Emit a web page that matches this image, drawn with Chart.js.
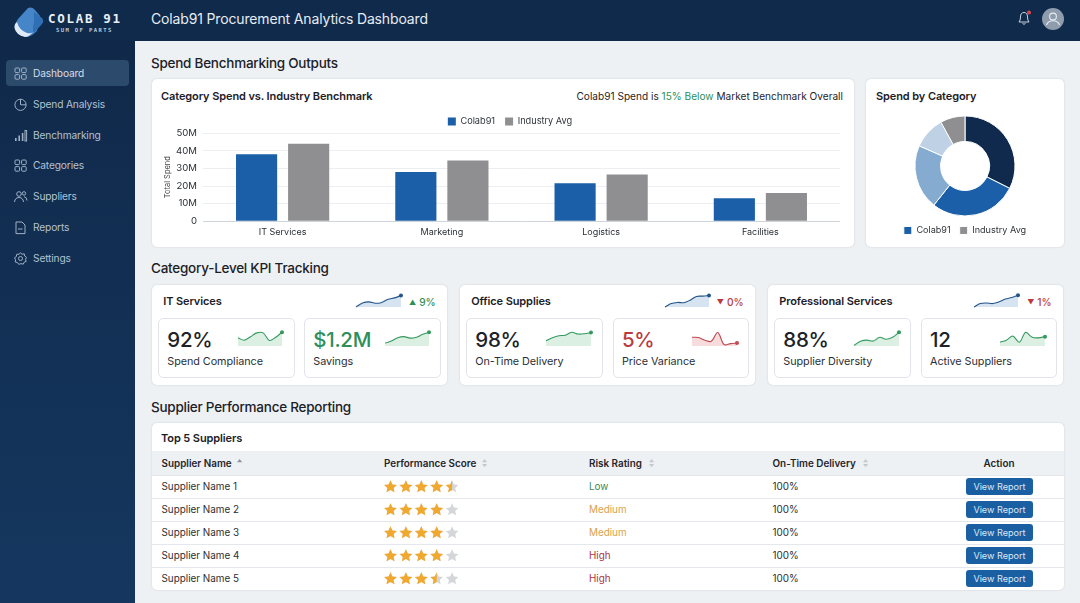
<!DOCTYPE html>
<html>
<head>
<meta charset="utf-8">
<title>Colab91 Procurement Analytics Dashboard</title>
<script src="https://cdn.jsdelivr.net/npm/chart.js@4"></script>
<style>
  html, body { margin: 0; padding: 0; }
  body { width: 1080px; height: 603px; overflow: hidden; position: relative; background: #eef1f4; font-family: Inter, sans-serif; color: #1c2228; }
  .abs, .lbl, canvas { position: absolute; }
  .lbl { white-space: nowrap; line-height: 20px; height: 20px; }
  #header { left: 0; top: 0; width: 1080px; height: 41px; background: #0f2a4b; }
  #sidebar { left: 0; top: 41px; width: 135px; height: 562px; background: linear-gradient(#10294a, #15375f); }
  #active { left: 6px; top: 60px; width: 123px; height: 26px; background: #2c4a6c; border-radius: 4px; }
  .card { position: absolute; background: #fff; border-radius: 5px; box-shadow: 0 0 2px rgba(30,50,70,.18); }
  .sub { position: absolute; background: #fff; border: 1px solid #e1e5e9; border-radius: 5px; box-sizing: border-box; }
  .section { font-size: 13.5px; font-weight: 500; letter-spacing: -0.25px; color: #1b2127; }
  .pagetitle { font-size: 14px; font-weight: 400; letter-spacing: -0.15px; color: #e6ecf2; }
  .cardtitle { font-size: 11px; font-weight: 600; letter-spacing: -0.1px; color: #1b2127; }
  .nav { font-size: 10.2px; letter-spacing: -0.15px; color: #b3c2d3; transform: translateY(-0.6px); }
  .big { font-size: 20.5px; font-weight: 500; letter-spacing: -0.3px; }
  .small { font-size: 10.8px; letter-spacing: -0.05px; color: #2a3036; transform: translateY(0.6px); }
  .delta { font-size: 10.2px; font-weight: 500; }
  .delta span { font-size: 7px; margin-right: 3px; position: relative; top: -1px; }
  .th { font-size: 9.9px; font-weight: 600; color: #1f252b; transform: translateY(-0.6px); }
  .td { font-size: 9.9px; color: #2a3036; transform: translateY(-0.6px); }
  .btn { position: absolute; width: 67px; height: 17px; left: 966px; background: #1b5fa3; border-radius: 3px; color: #dbe8f5; font-size: 9.1px; line-height: 17px; text-align: center; }
  svg { position: absolute; overflow: visible; }
</style>
</head>
<body>
<script>
// Bar chart
const barCategories = ['IT Services', 'Marketing', 'Logistics', 'Facilities'];
const colabSpend = [38, 28, 21.5, 13];
const industrySpend = [44, 34.5, 26.5, 16];

// Donut
const donutLabels = ['', 'Colab91', '', '', 'Industry Avg'];
const donutValues = [32.4, 28.3, 20.9, 10.4, 8];

// Sidebar
const navItems = ['Dashboard', 'Spend Analysis', 'Benchmarking', 'Categories', 'Suppliers', 'Reports', 'Settings'];

// KPI groups
const groupTitles = ['IT Services', 'Office Supplies', 'Professional Services'];
const groupArrows = ['▲', '▼', '▼'];
const groupDeltas = ['9%', '0%', '1%'];
const kpiValues = ['92%', '$1.2M', '98%', '5%', '88%', '12'];
const kpiLabels = ['Spend Compliance', 'Savings', 'On-Time Delivery', 'Price Variance', 'Supplier Diversity', 'Active Suppliers'];

// Sparklines, one series for each group header and KPI tile
const trendIT = [0, 14, 18, 13, 16, 27, 32, 40];
const trendOffice = [0, 12, 16, 15, 24, 37, 38, 40];
const trendProfessional = [0, 12, 14, 12, 18, 28, 33, 41];
const sparkCompliance = [28, 20, 32, 45, 45, 19, 30, 47];
const sparkSavings = [10, 17, 28, 32, 27, 30, 40, 47];
const sparkDelivery = [18, 28, 35, 37, 47, 41, 42, 46];
const sparkVariance = [30, 29, 20, 16, 46, 5, 8, 10];
const sparkDiversity = [2, 16, 20, 17, 30, 23, 30, 47];
const sparkActive = [13, 20, 34, 13, 47, 30, 28, 32];
const sparkSteps = ['1', '2', '3', '4', '5', '6', '7', '8'];

// Supplier table
const tableHeaders = ['Supplier Name', 'Performance Score', 'Risk Rating', 'On-Time Delivery'];
const supplierNames = ['Supplier Name 1', 'Supplier Name 2', 'Supplier Name 3', 'Supplier Name 4', 'Supplier Name 5'];
const supplierScores = [4.5, 4, 4, 4, 3.5];
const supplierRisks = ['Low', 'Medium', 'Medium', 'High', 'High'];
const supplierDelivery = ['100%', '100%', '100%', '100%', '100%'];

const riskColors = { Low: '#3d8a55', Medium: '#dca24c', High: '#ad3340' };
const GREEN = '#2e8f58', RED = '#b93a3f';

Chart.defaults.font.family = 'Inter, sans-serif';
Chart.defaults.animation = false;
Chart.defaults.responsive = false;

function el(cls, left, top, width, height, parent) {
  const d = document.createElement('div');
  d.className = cls;
  d.style.left = left + 'px';
  d.style.top = top + 'px';
  if (width) d.style.width = width + 'px';
  if (height) d.style.height = height + 'px';
  (parent || document.body).appendChild(d);
  return d;
}

// yc is the vertical centre of the text
function label(text, x, yc, cls, color) {
  const d = el('lbl ' + cls, x, yc - 10);
  d.textContent = text;
  if (color) d.style.color = color;
  return d;
}

function svg(markup, left, top, width, height) {
  const wrap = document.createElement('div');
  wrap.innerHTML = `<svg xmlns="http://www.w3.org/2000/svg" style="left:${left}px;top:${top}px" width="${width}" height="${height}" viewBox="0 0 ${width} ${height}">${markup}</svg>`;
  document.body.appendChild(wrap.firstChild);
}

function canvas(left, top, width, height) {
  const c = document.createElement('canvas');
  c.width = width;
  c.height = height;
  c.style.left = left + 'px';
  c.style.top = top + 'px';
  c.style.width = width + 'px';
  c.style.height = height + 'px';
  document.body.appendChild(c);
  return c;
}

// Frame
el('abs', 0, 0, 1080, 41).id = 'header';
el('abs', 0, 41, 135, 562).id = 'sidebar';
el('abs', 6, 60, 123, 26).id = 'active';

// Logo
svg(`<path d="M15 1 Q19 -0.5 22 3 L27 9 L24 24 Q18 30 13 30 Q5 27 2 20 Q2 16 5 12 Z" fill="#4585c8"/>
  <path d="M21 5 L29 11 Q31.5 14 29 17 L21 26 Q19 22 21 15 Z" fill="#2f6fb4"/>
  <path d="M1.5 21 Q1 17 4 15 Q6 23 14 26 Q18 27 20 25 Q16 30 12 30 Q3 28 1.5 21 Z" fill="#dfeaf5"/>`, 13, 7, 31, 31);
const brand = label('COLAB 91', 48, 19, '', '#e9eff5');
brand.style.cssText += 'font:700 12.5px "DejaVu Sans Mono", monospace;letter-spacing:1.7px;line-height:20px';
const tag = label('SUM OF PARTS', 56, 30, '', '#b9c8d8');
tag.style.cssText += 'font:700 5.6px "DejaVu Sans Mono", monospace;letter-spacing:1.35px;line-height:20px';
label('Colab91 Procurement Analytics Dashboard', 151, 19, 'pagetitle');

// Bell and avatar
svg(`<path d="M2 11 Q3.5 9.5 3.5 6 Q3.5 1.5 7 1.5 Q10.5 1.5 10.5 6 Q10.5 9.5 12 11 Z M5.5 12.5 Q7 14 8.5 12.5" fill="none" stroke="#c9d4e0" stroke-width="1"/>
  <circle cx="12" cy="1.5" r="2" fill="#e0474c"/>`, 1017, 11, 15, 15);
svg(`<circle cx="11" cy="11" r="11" fill="#8e9cac"/><circle cx="11" cy="8.5" r="3.4" fill="none" stroke="#e8edf2" stroke-width="1.1"/>
  <path d="M4.5 17 Q6 12.8 11 12.8 Q16 12.8 17.5 17" fill="none" stroke="#e8edf2" stroke-width="1.1"/>`, 1042, 8, 22, 22);

// Sidebar items
const navY = [73.5, 104.5, 135.5, 166, 197, 227.5, 258.5];
const S = 'fill="none" stroke="#9fb1c5" stroke-width="1"';
const grid = `<rect x="1" y="1" width="4.6" height="4.6" rx="1" ${S}/><rect x="7.6" y="1" width="4.6" height="4.6" rx="1" ${S}/><rect x="1" y="7.6" width="4.6" height="4.6" rx="1" ${S}/><rect x="7.6" y="7.6" width="4.6" height="4.6" rx="1" ${S}/>`;
const navIcons = [
  grid,
  `<circle cx="6.5" cy="6.8" r="5.6" ${S}/><path d="M6.5 1.2 V6.8 H12" ${S}/>`,
  `<rect x="1" y="9" width="1.6" height="3" fill="#9fb1c5"/><rect x="4.4" y="6.5" width="1.6" height="5.5" fill="#9fb1c5"/><rect x="7.8" y="4" width="1.6" height="8" fill="#9fb1c5"/><rect x="11" y="1.5" width="1.6" height="10.5" ${S}/>`,
  grid,
  `<circle cx="5" cy="4" r="2.3" ${S}/><circle cx="10" cy="3.4" r="1.7" ${S}/><path d="M0.5 12 Q1 7.5 5 7.5 Q9 7.5 9.5 12 M10 6.6 Q12.8 7 13 10.5" ${S}/>`,
  `<path d="M2 1 H8 L11 4 V12.6 H2 Z M4 8 H8.5" ${S}/>`,
  `<circle cx="6.5" cy="6.5" r="2" ${S}/><path d="M6.5 0.8 L8 2.2 L10.3 1.9 L10.7 4 L12.5 5.4 L11.5 7.3 L12.2 9.4 L10.2 10.2 L9.2 12.2 L6.9 11.6 L4.8 12.4 L3.5 10.6 L1.3 10 L1.5 7.8 L0.5 5.9 L2.3 4.6 L2.7 2.3 L5 2.2 Z" ${S}/>`
];
navItems.forEach((name, i) => {
  svg(navIcons[i], 13.5, navY[i] - 7, 14, 14);
  label(name, 33, navY[i], 'nav', i === 0 ? '#d3dde8' : null);
});

// Section titles and cards
label('Spend Benchmarking Outputs', 151, 62.5, 'section');
label('Category-Level KPI Tracking', 151, 268, 'section');
label('Supplier Performance Reporting', 151, 406.5, 'section');
el('card', 151.5, 79, 702, 168);
el('card', 866, 79, 198, 168);
label('Category Spend vs. Industry Benchmark', 161, 96, 'cardtitle');
label('Spend by Category', 876, 96, 'cardtitle');

const note = label('', 0, 96.5, 'td');
note.style.cssText += 'left:auto;right:237px;font-size:10.1px;color:#1f252b';
note.innerHTML = `Colab91 Spend is <span style="color:${GREEN}">15% Below</span> Market Benchmark Overall`;

// Grouped bars
new Chart(canvas(152, 104, 701, 140), {
  type: 'bar',
  data: {
    labels: barCategories,
    datasets: [
      { label: 'Colab91', data: colabSpend, backgroundColor: '#1a5fa8' },
      { label: 'Industry Avg', data: industrySpend, backgroundColor: '#8f8f91' }
    ]
  },
  options: {
    categoryPercentage: 0.654,
    barPercentage: 0.79,
    layout: { padding: { left: 8, right: 13, top: 0, bottom: 0 } },
    plugins: {
      tooltip: { enabled: false },
      legend: {
        labels: { boxWidth: 8, boxHeight: 8, color: '#2f353b', font: { size: 9.2 }, padding: 10 }
      }
    },
    scales: {
      x: {
        grid: { display: false, drawTicks: false },
        border: { display: false },
        ticks: { color: '#2a3036', font: { size: 9 }, padding: 6, maxRotation: 0, autoSkip: false }
      },
      y: {
        min: 0,
        max: 50,
        afterFit: scale => { scale.width = 43; },
        border: { display: false },
        grid: {
          drawTicks: false,
          color: ctx => (ctx.tick.value === 0 ? '#cfd4da' : '#eceff2')
        },
        title: { display: true, text: 'Total Spend', color: '#444', font: { size: 7.5 }, padding: { top: 3, bottom: 0 } },
        ticks: {
          stepSize: 10,
          autoSkip: false,
          padding: 6,
          color: '#2a3036',
          font: { size: 9.6 },
          callback: v => (v === 0 ? '0' : v + 'M')
        }
      }
    }
  },
  plugins: [{
    id: 'shiftLegend',
    afterLayout(chart) {
      chart.legend.left += 10;
      chart.legend.right += 10;
      chart.legend.top += 3;
    }
  }]
});

// Donut, the legend lists only the named slices
new Chart(canvas(868, 111, 194, 134), {
  type: 'doughnut',
  data: {
    labels: donutLabels,
    datasets: [{
      data: donutValues,
      backgroundColor: ['#0f2a4d', '#1a5fa8', '#86abd1', '#bed1e5', '#8f8f91'],
      borderColor: '#fff',
      borderWidth: 1
    }]
  },
  options: {
    radius: 50,
    cutout: '49%',
    layout: { padding: { top: 4 } },
    plugins: {
      tooltip: { enabled: false },
      legend: {
        position: 'bottom',
        labels: {
          boxWidth: 8, boxHeight: 8, color: '#2f353b', font: { size: 9.1 }, padding: 9,
          filter: item => item.text !== ''
        }
      }
    }
  }
});

// KPI cards
const groupLeft = [151.7, 459.7, 767.7];
const groupWidth = 295.5;
const subLeft = [158.3, 304.3, 466.3, 613, 774.3, 921];
const deltaColors = [GREEN, RED, RED];
const valueColors = [null, GREEN, null, RED, null, null];

groupLeft.forEach((x, i) => {
  el('card', x, 285, groupWidth, 100);
  label(groupTitles[i], x + 11.5, 301, 'cardtitle');
  const d = label('', 0, 301.5, 'delta', deltaColors[i]);
  d.innerHTML = `<span>${groupArrows[i]}</span>${groupDeltas[i]}`;
  d.style.left = 'auto';
  d.style.right = (1080 - (x + 284)) + 'px';
});
subLeft.forEach((x, i) => {
  el('sub', x, 318.3, 136.4, 60);
  label(kpiValues[i], x + 9, 340, 'big', valueColors[i]);
  label(kpiLabels[i], x + 9, 361, 'small');
});

function sparkline(values, plotLeft, baseY, plotWidth, plotHeight, yMax, line, fill) {
  const pad = 3;
  const radii = values.map((v, i) => (i === values.length - 1 ? 2 : 0));
  new Chart(canvas(plotLeft - pad, baseY - plotHeight - pad, plotWidth + pad * 2, plotHeight + pad * 2), {
    type: 'line',
    data: {
      labels: sparkSteps,
      datasets: [{
        data: values,
        borderColor: line,
        backgroundColor: fill,
        pointBackgroundColor: line,
        pointBorderWidth: 0,
        pointRadius: radii,
        borderWidth: 1.1,
        tension: 0.35,
        fill: 'origin',
        clip: false
      }]
    },
    options: {
      layout: { padding: pad },
      plugins: { legend: { display: false }, tooltip: { enabled: false } },
      scales: {
        x: { display: false },
        y: { display: false, min: 0, max: yMax }
      }
    }
  });
}

const BLUE_LINE = '#235488', BLUE_FILL = '#d6e3f0';
const GREEN_LINE = '#34995f', GREEN_FILL = '#dbefe2';
const RED_LINE = '#c04a50', RED_FILL = '#f6dcdc';
sparkline(trendIT, 355, 308, 46.7, 14, 42, BLUE_LINE, BLUE_FILL);
sparkline(trendOffice, 664, 308, 46, 14, 42, BLUE_LINE, BLUE_FILL);
sparkline(trendProfessional, 972.7, 308, 46.3, 14, 42, BLUE_LINE, BLUE_FILL);
sparkline(sparkCompliance, 237.3, 346.7, 46, 16, 48, GREEN_LINE, GREEN_FILL);
sparkline(sparkSavings, 384, 346.7, 46, 16, 48, GREEN_LINE, GREEN_FILL);
sparkline(sparkDelivery, 544.7, 346.7, 47.3, 16, 48, GREEN_LINE, GREEN_FILL);
sparkline(sparkVariance, 690.7, 346.7, 47.3, 16, 48, RED_LINE, RED_FILL);
sparkline(sparkDiversity, 853.3, 346.7, 46.3, 16, 48, GREEN_LINE, GREEN_FILL);
sparkline(sparkActive, 999, 346.7, 47, 16, 48, GREEN_LINE, GREEN_FILL);

// Supplier table
el('card', 151.7, 423, 912.3, 167);
label('Top 5 Suppliers', 161, 437.5, 'cardtitle');
el('abs', 151.7, 451, 912.3, 24).style.background = '#eef1f4';

const colX = [161.5, 384, 589, 772.5];
const caretX = [240, 484, 651, 865];
tableHeaders.forEach((h, i) => {
  label(h, colX[i], 463.5, 'th');
  const up = i === 0 ? '#8d949c' : '#c3c9cf';
  svg(`<path d="M0 3.2 L2.6 0 L5.2 3.2 Z" fill="${up}"/>` + (i === 0 ? '' : `<path d="M0 5 L2.6 8.2 L5.2 5 Z" fill="#c3c9cf"/>`), caretX[i] - (i === 0 ? 3 : 2), 459, 6, 9);
});
const act = label('Action', 0, 463.5, 'th');
act.style.left = '969px';
act.style.width = '60px';
act.style.textAlign = 'center';

const rowY = [486, 509, 532, 555.3, 578.5];
const rowLines = [475, 497.7, 521, 543.7, 567];
rowLines.forEach(y => { el('abs', 151.7, y, 912.3, 1).style.background = '#e4e7eb'; });

const STAR = 'M6.5 0.3 L8.4 4.4 L12.9 4.9 L9.6 7.9 L10.5 12.3 L6.5 10.1 L2.5 12.3 L3.4 7.9 L0.1 4.9 L4.6 4.4 Z';
function stars(score, yc) {
  let markup = `<defs><clipPath id="half${yc * 10}"><rect x="0" y="0" width="6.5" height="13"/></clipPath></defs>`;
  for (let i = 0; i < 5; i++) {
    const x = i * 15.4;
    markup += `<g transform="translate(${x},0)"><path d="${STAR}" fill="#d4d6d9"/>`;
    if (score >= i + 1) markup += `<path d="${STAR}" fill="#f0a92e"/>`;
    else if (score >= i + 0.5) markup += `<path d="${STAR}" fill="#f0a92e" clip-path="url(#half${yc * 10})"/>`;
    markup += '</g>';
  }
  svg(markup, 384, yc - 6.5, 76, 13);
}

supplierNames.forEach((name, i) => {
  const y = rowY[i];
  label(name, colX[0], y + 0.5, 'td');
  stars(supplierScores[i], y);
  label(supplierRisks[i], colX[2], y + 0.5, 'td', riskColors[supplierRisks[i]]);
  label(supplierDelivery[i], colX[3], y + 0.5, 'td');
  const b = el('btn', 966, y - 8.5);
  b.textContent = 'View Report';
});
</script>
</body>
</html>
